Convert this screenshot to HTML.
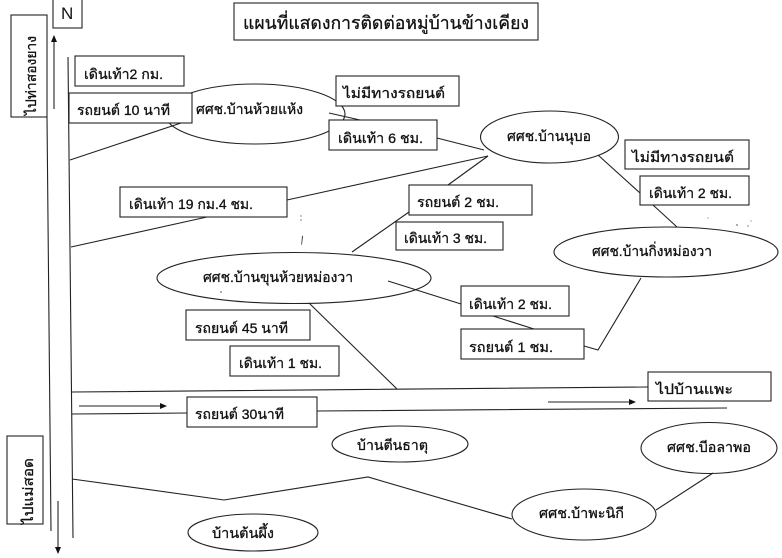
<!DOCTYPE html>
<html lang="th"><head><meta charset="utf-8"><title>แผนที่แสดงการติดต่อหมู่บ้านข้างเคียง</title>
<style>
html,body{margin:0;padding:0;background:#fff;width:782px;height:558px;overflow:hidden}
svg{display:block}
text{font-family:"Liberation Sans","DejaVu Sans",sans-serif;font-size:14px;fill:#111;stroke:#111;stroke-width:.3}
.b{fill:#fff;stroke:#222;stroke-width:1.1}
.l{fill:none;stroke:#222;stroke-width:1.1}
</style></head><body>
<svg width="782" height="558" viewBox="0 0 782 558" xmlns="http://www.w3.org/2000/svg">
<defs><marker id="a" markerWidth="7" markerHeight="6" refX="6" refY="3" orient="auto" markerUnits="userSpaceOnUse"><path d="M0 0L7 3L0 6Z" fill="#111"/></marker></defs>

<!-- roads -->
<path class="l" d="M47 117L51 531M68 57L73 538"/>
<path class="l" marker-end="url(#a)" d="M54 109V36"/>
<path class="l" marker-end="url(#a)" d="M58 501V553"/>
<path class="l" d="M72 392L648 387M72 414L187 413M317 411L727 408"/>
<path class="l" marker-end="url(#a)" d="M79 406H166"/>
<path class="l" marker-end="url(#a)" d="M548 402H635"/>

<!-- ellipses -->
<ellipse class="b" cx="255" cy="114" rx="90" ry="30"/>
<ellipse class="b" cx="549.5" cy="137" rx="69" ry="26"/>
<ellipse class="b" cx="666" cy="252" rx="112" ry="25"/>
<ellipse class="b" cx="294" cy="278" rx="137" ry="25.5"/>
<ellipse class="b" cx="400" cy="444" rx="68" ry="18"/>
<ellipse class="b" cx="709" cy="448" rx="68" ry="25.5"/>
<ellipse class="b" cx="584" cy="514.5" rx="72" ry="25.5"/>
<ellipse class="b" cx="253" cy="532.5" rx="65" ry="18.5"/>

<!-- connectors -->
<path class="l" d="M70 160L184 122M71 247L207 217M287 200L488 156M448 185L488 156M352 252L409 212"/>
<path class="l" d="M329 113L360 120M437 138L484 150M598 155L640 193M653 205L677 227"/>
<path class="l" d="M388 281L461 304M493 316L534 329M584 346L598 350L641 278M309 303L397 389"/>
<path class="l" d="M72 479L224 500L368 477L512 519M656 510L713 473"/>

<!-- boxes -->
<rect class="b" x="53" y="-2" width="29" height="30"/>
<rect class="b" x="11" y="15" width="36" height="102"/>
<rect class="b" x="7" y="436" width="36" height="88"/>
<rect class="b" x="234" y="3" width="304" height="37"/>
<rect class="b" x="75" y="56" width="109" height="30"/>
<rect class="b" x="69" y="93" width="123" height="30"/>
<rect class="b" x="336" y="76" width="123" height="30"/>
<rect class="b" x="329" y="120" width="108" height="30"/>
<rect class="b" x="625" y="140" width="124" height="29"/>
<rect class="b" x="640" y="176" width="109" height="29"/>
<rect class="b" x="120" y="187" width="167" height="30"/>
<rect class="b" x="409" y="185" width="123" height="30"/>
<rect class="b" x="396" y="222" width="107" height="28"/>
<rect class="b" x="461" y="286" width="108" height="30"/>
<rect class="b" x="461" y="329" width="123" height="30"/>
<rect class="b" x="186" y="310" width="124" height="30"/>
<rect class="b" x="230" y="346" width="109" height="30"/>
<rect class="b" x="648" y="372" width="123" height="29"/>
<rect class="b" x="187" y="397" width="130" height="30"/>

<!-- labels -->
<text x="61" y="19" style="font-size:17px;stroke:none">N</text>
<text x="243" y="29" textLength="286" lengthAdjust="spacingAndGlyphs" style="font-size:18px">แผนที่แสดงการติดต่อหมู่บ้านข้างเคียง</text>
<text transform="translate(36,115) rotate(-90)" textLength="79" lengthAdjust="spacingAndGlyphs">ไปท่าสองยาง</text>
<text transform="translate(33,524) rotate(-90)" textLength="66" lengthAdjust="spacingAndGlyphs">ไปแม่สอด</text>
<text x="84" y="79" textLength="79" lengthAdjust="spacingAndGlyphs">เดินเท้า2 กม.</text>
<text x="77" y="115" textLength="93" lengthAdjust="spacingAndGlyphs">รถยนต์ 10 นาที</text>
<text x="196" y="114" textLength="107" lengthAdjust="spacingAndGlyphs">ศศช.บ้านห้วยแห้ง</text>
<text x="343" y="98" textLength="102" lengthAdjust="spacingAndGlyphs">ไม่มีทางรถยนต์</text>
<text x="338" y="143" textLength="85" lengthAdjust="spacingAndGlyphs">เดินเท้า 6 ชม.</text>
<text x="507" y="141" textLength="84" lengthAdjust="spacingAndGlyphs">ศศช.บ้านนุบอ</text>
<text x="632" y="162" textLength="102" lengthAdjust="spacingAndGlyphs">ไม่มีทางรถยนต์</text>
<text x="649" y="198" textLength="83" lengthAdjust="spacingAndGlyphs">เดินเท้า 2 ชม.</text>
<text x="129" y="209" textLength="124" lengthAdjust="spacingAndGlyphs">เดินเท้า 19 กม.4 ชม.</text>
<text x="417" y="207" textLength="82" lengthAdjust="spacingAndGlyphs">รถยนต์ 2 ชม.</text>
<text x="404" y="243" textLength="83" lengthAdjust="spacingAndGlyphs">เดินเท้า 3 ชม.</text>
<text x="592" y="256" textLength="120" lengthAdjust="spacingAndGlyphs">ศศช.บ้านกิ่งหม่องวา</text>
<text x="203" y="282" textLength="150" lengthAdjust="spacingAndGlyphs">ศศช.บ้านขุนห้วยหม่องวา</text>
<text x="469" y="309" textLength="83" lengthAdjust="spacingAndGlyphs">เดินเท้า 2 ชม.</text>
<text x="469" y="352" textLength="84" lengthAdjust="spacingAndGlyphs">รถยนต์ 1  ชม.</text>
<text x="195" y="333" textLength="93" lengthAdjust="spacingAndGlyphs">รถยนต์ 45 นาที</text>
<text x="239" y="368" textLength="83" lengthAdjust="spacingAndGlyphs">เดินเท้า 1 ชม.</text>
<text x="656" y="394" textLength="77" lengthAdjust="spacingAndGlyphs">ไปบ้านแพะ</text>
<text x="195" y="419" textLength="89" lengthAdjust="spacingAndGlyphs">รถยนต์ 30นาที</text>
<text x="357" y="450" textLength="71" lengthAdjust="spacingAndGlyphs">บ้านตีนธาตุ</text>
<text x="667" y="452" textLength="84" lengthAdjust="spacingAndGlyphs">ศศช.บีอลาพอ</text>
<text x="539" y="518" textLength="85" lengthAdjust="spacingAndGlyphs">ศศช.บ้าพะนิกี</text>
<text x="212" y="538" textLength="62" lengthAdjust="spacingAndGlyphs">บ้านต้นผึ้ง</text>

<!-- specks -->
<g fill="#333"><circle cx="301" cy="216" r=".6"/><circle cx="301" cy="220" r=".6"/><path d="M302 236l1-.2-1 9-.7 0z"/><circle cx="221" cy="292" r=".7"/><circle cx="737" cy="225" r=".7"/><circle cx="748" cy="226" r=".6"/><circle cx="708" cy="218" r=".5"/><circle cx="751" cy="221" r=".5"/></g>
</svg>
</body></html>
